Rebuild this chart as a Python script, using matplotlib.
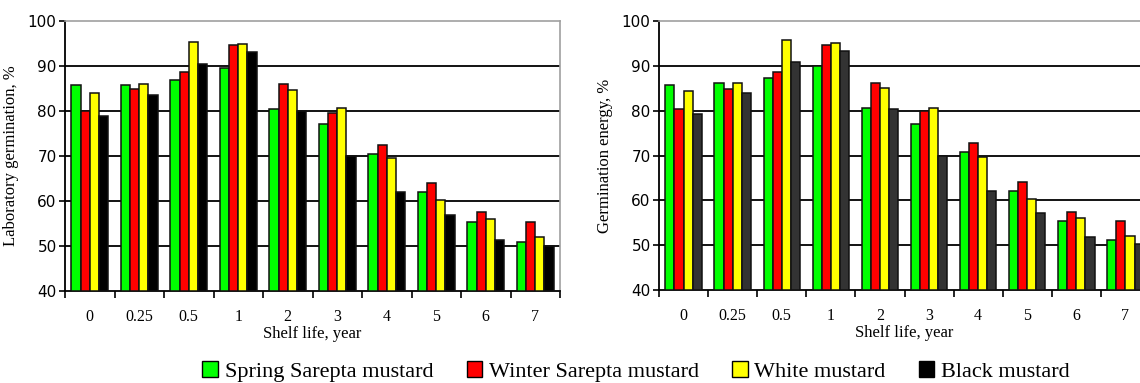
import numpy as np
import matplotlib.pyplot as plt
from matplotlib.patches import Patch

shelf_life = ['0', '0.25', '0.5', '1', '2', '3', '4', '5', '6', '7']
varieties = ['Spring Sarepta mustard', 'Winter Sarepta mustard', 'White mustard', 'Black mustard']

# laboratory germination, %
lab_spring = [85.7, 85.7, 86.8, 89.6, 80.4, 77.1, 70.5, 62.0, 55.3, 51.0]
lab_winter = [80.0, 84.8, 88.7, 94.7, 86.1, 79.6, 72.5, 64.0, 57.5, 55.4]
lab_white = [84.0, 86.1, 95.3, 95.0, 84.7, 80.7, 69.5, 60.2, 56.0, 52.1]
lab_black = [79.0, 83.6, 90.5, 93.1, 80.0, 69.9, 62.0, 56.8, 51.4, 50.0]

# germination energy, %
en_spring = [85.7, 86.1, 87.2, 90.0, 80.7, 77.1, 70.7, 62.1, 55.4, 51.1]
en_winter = [80.4, 84.8, 88.7, 94.7, 86.1, 80.0, 72.8, 64.0, 57.5, 55.4]
en_white = [84.4, 86.1, 95.7, 95.0, 85.0, 80.7, 69.6, 60.4, 56.0, 52.1]
en_black = [79.3, 84.0, 90.8, 93.3, 80.4, 70.0, 62.1, 57.2, 51.8, 50.3]

colors_left = ['#00ff00', '#ff0000', '#ffff00', '#000000']
colors_right = ['#00ff00', '#ff0000', '#ffff00', '#333333']

serif = ['Liberation Serif', 'DejaVu Serif']


def draw_panel(ax, series, colors, ylabel):
    x = np.arange(len(shelf_life)) + 0.5
    w = 0.185
    for k, (vals, c) in enumerate(zip(series, colors)):
        ax.bar(x + (k - 1.5) * w, np.array(vals) - 40, bottom=40, width=w,
               color=c, edgecolor='#111111', linewidth=1.1, zorder=3)
    ax.set_xlim(0, len(shelf_life))
    ax.set_ylim(40, 100)
    ax.set_yticks(range(40, 101, 10))
    for v in range(50, 100, 10):
        ax.axhline(v, color='black', linewidth=1.3, zorder=1)
    ax.set_xticks(range(len(shelf_life) + 1))
    ax.set_xticklabels([])
    ax.set_xticks(x, minor=True)
    ax.set_xticklabels(shelf_life, minor=True, fontfamily=serif, fontsize=11.5)
    ax.tick_params(axis='x', which='major', length=5, width=1.2, direction='out')
    ax.tick_params(axis='x', which='minor', length=0, pad=13)
    ax.tick_params(axis='y', length=4, width=1.2, pad=2, labelsize=11)
    for s in ['left', 'bottom']:
        ax.spines[s].set_color('black')
        ax.spines[s].set_linewidth(1.3)
    for s in ['top', 'right']:
        ax.spines[s].set_color('#a0a0a0')
        ax.spines[s].set_linewidth(1.2)
    ax.set_xlabel('Shelf life, year', fontfamily=serif, fontsize=12, labelpad=1)
    ax.set_ylabel(ylabel, fontfamily=serif, fontsize=12, labelpad=6)


fig = plt.figure(figsize=(11.4, 3.83), dpi=100)
ax1 = fig.add_axes([65 / 1140, 92 / 383, 495 / 1140, 270 / 383])
ax2 = fig.add_axes([659 / 1140, 93 / 383, 491 / 1140, 269 / 383])

draw_panel(ax1, [lab_spring, lab_winter, lab_white, lab_black], colors_left,
           'Laboratory germination, %')
draw_panel(ax2, [en_spring, en_winter, en_white, en_black], colors_right,
           'Germination energy, %')

handles = [Patch(facecolor=c, edgecolor='black', linewidth=1.0) for c in colors_left]
fig.legend(handles, varieties, loc='center', bbox_to_anchor=(0.558, 0.03), ncol=4,
           frameon=False, prop={'family': serif, 'size': 16},
           handlelength=0.7, handleheight=0.7, handletextpad=0.3,
           columnspacing=1.5, borderpad=0)

fig.savefig('out.png', dpi=100)
